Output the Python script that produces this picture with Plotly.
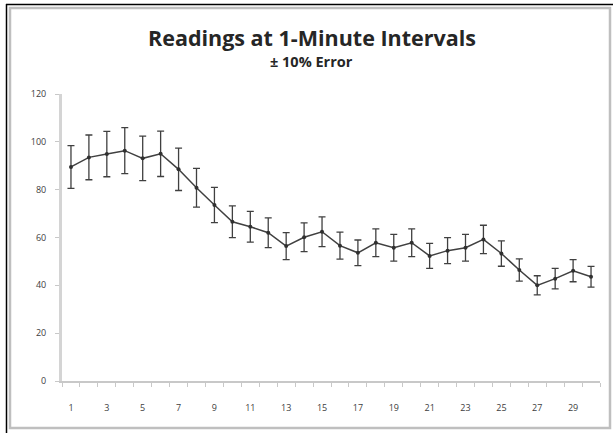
import plotly.graph_objects as go

minutes = list(range(1, 31))
readings = [89.5, 93.5, 94.9, 96.3, 93.1, 95.0, 88.5, 80.8, 73.6, 66.6,
            64.5, 62.0, 56.4, 60.1, 62.4, 56.6, 53.6, 57.8, 55.7, 57.8,
            52.3, 54.5, 55.7, 59.2, 53.3, 46.4, 40.0, 42.8, 46.1, 43.6]
error_percent = 10
x_tick_labels = [str(m) for m in range(1, 31, 2)]
y_ticks = [0, 20, 40, 60, 80, 100, 120]

W, H = 613, 433
L, R, T, B = 62, 600, 94, 381


def px(x):
    return (x - L) / (R - L)


def py(y):
    return (B - y) / (B - T)


fig = go.Figure()
fig.add_trace(go.Scatter(
    x=minutes, y=readings, mode="lines+markers",
    line=dict(color="#404040", width=1.5),
    marker=dict(color="#303030", size=4),
    error_y=dict(type="percent", value=error_percent, color="#404040",
                 thickness=1.3, width=3.5),
    showlegend=False,
))

font = "'Open Sans', 'Liberation Sans', sans-serif"
fig.update_layout(
    width=W, height=H,
    margin=dict(l=L, r=W - R, t=T, b=H - B, pad=0),
    paper_bgcolor="white", plot_bgcolor="white",
    font=dict(family=font, color="#404040", size=9),
    xaxis=dict(
        range=[0.5, 30.5], tickmode="array",
        tickvals=[int(t) for t in x_tick_labels], ticktext=x_tick_labels,
        ticks="", showgrid=False, zeroline=False,
        showline=True, linecolor="#c8c8c8", linewidth=1.5,
        tickfont=dict(size=9, color="#404040"),
        minor=dict(tickmode="linear", tick0=0.5, dtick=1, ticks="outside",
                   ticklen=4, tickcolor="#c8c8c8", tickwidth=1, showgrid=False),
        ticklabelstandoff=17,
    ),
    yaxis=dict(
        range=[0, 120], tickmode="array", tickvals=y_ticks,
        ticks="outside", ticklen=4, tickcolor="#c8c8c8", tickwidth=1,
        showgrid=False, zeroline=False,
        showline=True, linecolor="#d4d4d4", linewidth=3,
        tickfont=dict(size=9, color="#404040"),
        ticklabelstandoff=7,
    ),
    annotations=[
        dict(text="<b>Readings at 1-Minute Intervals</b>", x=px(312), y=py(37),
             xref="paper", yref="paper", showarrow=False,
             font=dict(size=21.5, color="#262626", family=font),
             xanchor="center", yanchor="middle"),
        dict(text="<b>± 10% Error</b>", x=px(311), y=py(61),
             xref="paper", yref="paper", showarrow=False,
             font=dict(size=14.5, color="#262626", family=font),
             xanchor="center", yanchor="middle"),
    ],
    shapes=[
        dict(type="rect", xref="paper", yref="paper",
             x0=px(10), x1=px(610), y0=py(428), y1=py(8),
             line=dict(color="#bfbfbf", width=2.5), fillcolor="rgba(0,0,0,0)"),
        dict(type="line", xref="paper", yref="paper",
             x0=px(6), x1=px(613), y0=py(4.5), y1=py(4.5),
             line=dict(color="black", width=1.5)),
        dict(type="line", xref="paper", yref="paper",
             x0=px(6.5), x1=px(6.5), y0=py(4), y1=py(433),
             line=dict(color="black", width=1.5)),
    ],
)

fig.write_html("out.html", config={"displayModeBar": False},
               post_script="document.body.style.margin='0';document.body.style.padding='0';")
